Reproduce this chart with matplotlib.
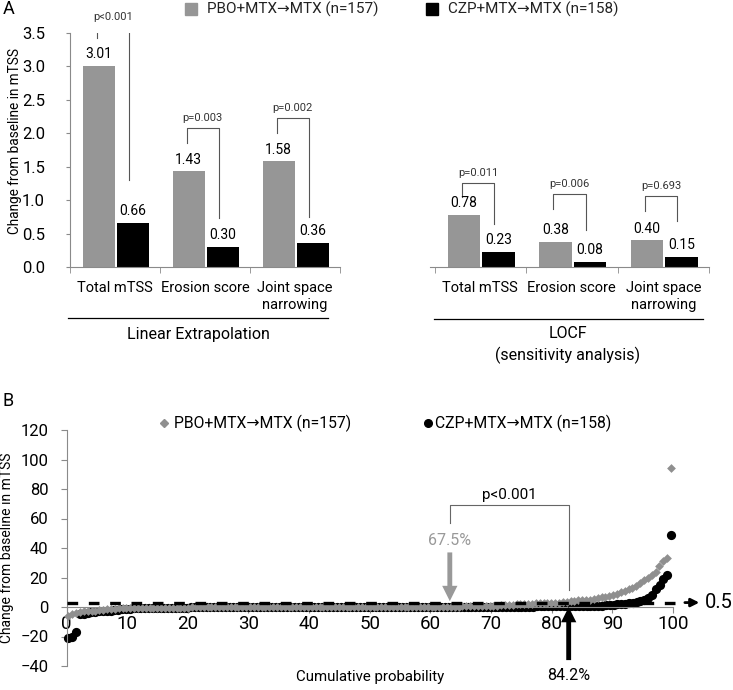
import numpy as np
import matplotlib.pyplot as plt
from matplotlib.lines import Line2D

plt.rcParams['font.family'] = ['Roboto', 'DejaVu Sans']

# --- Donnees panneau A ---
categories = ['Total mTSS', 'Erosion score', 'Joint space\nnarrowing']
pbo_linear = [3.01, 1.43, 1.58]
czp_linear = [0.66, 0.30, 0.36]
p_linear = ['p<0.001', 'p=0.003', 'p=0.002']
pbo_locf = [0.78, 0.38, 0.40]
czp_locf = [0.23, 0.08, 0.15]
p_locf = ['p=0.011', 'p=0.006', 'p=0.693']
# crochets : (jambe gauche bas, haut, jambe droite bas, texte)
brk_linear = [(3.42, 3.59, 1.30, 3.66), (1.85, 2.08, 0.73, 2.15), (2.00, 2.23, 0.75, 2.30)]
brk_locf = [(1.05, 1.26, 0.64, 1.33), (0.87, 1.09, 0.55, 1.16), (0.84, 1.06, 0.69, 1.13)]

# --- Donnees panneau B (valeurs triees: (valeur, nombre)) ---
pbo_runs = [(-6, 1), (-4.5, 1), (-4, 1), (-3.5, 1), (-3, 2), (-2.5, 2), (-2, 2), (-1.5, 3), (-1, 7),
            (-0.5, 12), (0, 70), (0.5, 6), (1, 4), (1.5, 4), (2, 5), (2.5, 3), (3, 4), (3.5, 2),
            (4, 2), (4.5, 2), (5, 2), (5.5, 1), (6, 1), (6.5, 1), (7, 1), (7.5, 1), (8, 1),
            (9, 1), (10, 1), (11, 1), (12, 1), (13, 1), (14, 1), (16, 1), (18, 1), (20, 1),
            (22, 1), (24, 1), (28, 1), (31, 1), (33, 1), (94, 1)]
czp_runs = [(-21, 1), (-20, 1), (-17, 1), (-5, 1), (-4.5, 1), (-4, 1), (-3.5, 2), (-3, 2), (-2.5, 2),
            (-2, 2), (-1.5, 3), (-1, 7), (-0.5, 8), (0, 90), (0.5, 13), (1, 5), (1.5, 3), (2, 3),
            (2.5, 1), (3, 1), (3.5, 1), (4, 1), (5, 1), (6, 1), (8, 1), (12, 1), (15, 1), (19, 1),
            (22, 1), (49, 1)]
pbo_vals = np.repeat([v for v, n in pbo_runs], [n for v, n in pbo_runs])
czp_vals = np.repeat([v for v, n in czp_runs], [n for v, n in czp_runs])

GRIS = '#969696'
AXE = '#8a8a8a'

fig = plt.figure(figsize=(7.33, 6.9), dpi=100)
W, H = 733, 690

def box(x0, y0, x1, y1):
    return [x0 / W, 1 - y1 / H, (x1 - x0) / W, (y1 - y0) / H]

def panneau(ax, pbo, czp, pv, brk, show_y):
    x = np.arange(3)
    ax.bar(x - 0.18, pbo, width=0.355, color=GRIS)
    ax.bar(x + 0.2, czp, width=0.355, color='black')
    for i in range(3):
        ax.text(x[i] - 0.18, pbo[i] + 0.07, f'{pbo[i]:.2f}', ha='center', va='bottom', fontsize=10)
        ax.text(x[i] + 0.2, czp[i] + 0.07, f'{czp[i]:.2f}', ha='center', va='bottom', fontsize=10)
        lb, top, rb, ty = brk[i]
        xl, xr = x[i] - 0.2, x[i] + 0.15
        ax.plot([xl, xl, xr, xr], [lb, top, top, rb], color='#555555', lw=0.8)
        ax.text((xl + xr) / 2, ty, pv[i], ha='center', va='bottom', fontsize=8, color='#333333')
    ax.set_ylim(0, 3.5)
    ax.set_xticks(x)
    ax.set_xticklabels(categories, fontsize=10.5, linespacing=1.25)
    ax.set_xticks([-0.5, 0.5, 1.5, 2.5], minor=True)
    ax.tick_params(axis='x', which='major', length=0, pad=10)
    ax.tick_params(axis='x', which='minor', length=4, color=AXE)
    for s in ['top', 'right']:
        ax.spines[s].set_visible(False)
    ax.spines['bottom'].set_color(AXE)
    if show_y:
        ax.set_yticks(np.arange(0, 3.6, 0.5))
        ax.set_yticklabels([f'{v:.1f}' for v in np.arange(0, 3.6, 0.5)], fontsize=12)
        ax.tick_params(axis='y', length=3, color=AXE, pad=15)
        ax.spines['left'].set_color(AXE)
        ax.set_xlim(-0.5, 2.5)
    else:
        ax.spines['left'].set_visible(False)
        ax.set_yticks([])
        ax.set_xlim(-0.55, 2.5)

ax1 = fig.add_axes(box(70, 33, 340, 267))
panneau(ax1, pbo_linear, czp_linear, p_linear, brk_linear, True)
ax1.set_ylabel('Change from baseline in mTSS', fontsize=9.8)
ax1.yaxis.set_label_coords(-0.178, 0.54)

ax2 = fig.add_axes(box(430, 33, 709, 267))
panneau(ax2, pbo_locf, czp_locf, p_locf, brk_locf, False)

# lignes de groupe
fig.add_artist(Line2D([68 / W, 328 / W], [1 - 318 / H] * 2, color='black', lw=0.9))
fig.add_artist(Line2D([434 / W, 703 / W], [1 - 319 / H] * 2, color='black', lw=0.9))
fig.text(198 / W, 1 - 334 / H, 'Linear Extrapolation', ha='center', va='center', fontsize=11.5)
fig.text(568 / W, 1 - 334 / H, 'LOCF', ha='center', va='center', fontsize=11.5)
fig.text(568 / W, 1 - 355 / H, '(sensitivity analysis)', ha='center', va='center', fontsize=11.5)

# legende A
fig.add_artist(Line2D([191 / W], [1 - 9 / H], marker='s', ms=9, color=GRIS, ls='none'))
fig.text(207 / W, 1 - 9 / H, 'PBO+MTX\u2192MTX (n=157)', va='center', fontsize=11, color='#222222')
fig.add_artist(Line2D([432 / W], [1 - 9 / H], marker='s', ms=9, color='black', ls='none'))
fig.text(448 / W, 1 - 9 / H, 'CZP+MTX\u2192MTX (n=158)', va='center', fontsize=11, color='#222222')

fig.text(3 / W, 1 - 9 / H, 'A', va='center', fontsize=13)
fig.text(3 / W, 1 - 401 / H, 'B', va='center', fontsize=13)

# --- Panneau B ---
ax3 = fig.add_axes(box(66.5, 430, 673, 666))
xp = (np.arange(len(pbo_vals)) + 0.5) / len(pbo_vals) * 100
xc = (np.arange(len(czp_vals)) + 0.5) / len(czp_vals) * 100
ax3.scatter(xp, pbo_vals, marker='D', s=20, color='#8f8f8f', zorder=3, clip_on=False, linewidths=0)
ax3.scatter(xc, czp_vals, marker='o', s=44, color='black', zorder=2, clip_on=False, linewidths=0)
ax3.set_xlim(0, 100)
ax3.set_ylim(-40, 120)
ax3.set_xticks(np.arange(0, 101, 10))
ax3.set_yticks(np.arange(-40, 121, 20))
ax3.tick_params(axis='x', labelsize=13.5, length=4, color=AXE, pad=2)
ax3.tick_params(axis='y', labelsize=12, length=4, color=AXE, pad=9)
ax3.spines['bottom'].set_position(('data', 0))
ax3.spines['bottom'].set_color(AXE)
ax3.spines['left'].set_color(AXE)
for s in ['top', 'right']:
    ax3.spines[s].set_visible(False)
ax3.set_ylabel('Change from baseline in mTSS', fontsize=10)
ax3.yaxis.set_label_coords(-0.086, 0.5)
fig.text(370 / W, 1 - 677 / H, 'Cumulative probability', ha='center', va='center', fontsize=10.8)

# ligne seuil 0.5
ax3.plot([0, 102], [3, 3], color='black', lw=2.4, dashes=(3.2, 3.2), zorder=4, clip_on=False)
ax3.annotate('', xy=(104.8, 3), xytext=(101.5, 3),
             arrowprops=dict(arrowstyle='-|>', color='black', lw=2, mutation_scale=12),
             annotation_clip=False)
ax3.text(105.2, 3, '0.5', va='center', ha='left', fontsize=14.5)

# fleches et crochet
ax3.annotate('', xy=(63.2, 4), xytext=(63.2, 37),
             arrowprops=dict(width=3.5, headwidth=11, headlength=11, color='#999999', lw=0))
ax3.text(63.2, 45, '67.5%', ha='center', va='center', fontsize=11.5, color='#999999')
ax3.annotate('', xy=(82.8, 0), xytext=(82.8, -36),
             arrowprops=dict(width=3.5, headwidth=11, headlength=11, color='black', lw=0),
             annotation_clip=False)
ax3.text(82.8, -46.5, '84.2%', ha='center', va='center', fontsize=11.5)
ax3.plot([63.2, 63.2, 82.8, 82.8], [57, 69, 69, 11.5], color='#666666', lw=0.8)
ax3.text(73, 71, 'p<0.001', ha='center', va='bottom', fontsize=11)

# legende B
fig.add_artist(Line2D([164 / W], [1 - 423 / H], marker='D', ms=4, color='#8f8f8f', ls='none'))
fig.text(174 / W, 1 - 423 / H, 'PBO+MTX\u2192MTX (n=157)', va='center', fontsize=11.3)
fig.add_artist(Line2D([428 / W], [1 - 423 / H], marker='o', ms=5.5, color='black', ls='none'))
fig.text(435 / W, 1 - 423 / H, 'CZP+MTX\u2192MTX (n=158)', va='center', fontsize=11.3)

fig.savefig('out.png', dpi=100)
